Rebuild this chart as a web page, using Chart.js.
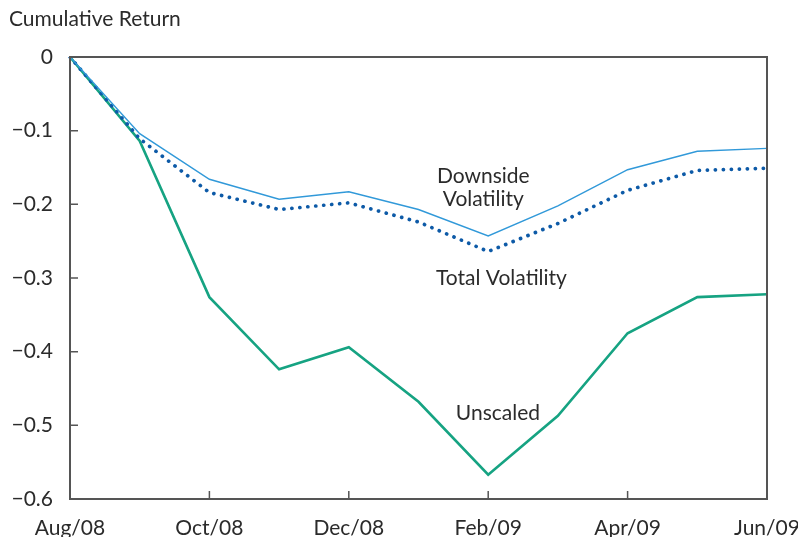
<!DOCTYPE html>
<html>
<head>
<meta charset="utf-8">
<script src="https://cdn.jsdelivr.net/npm/chart.js@4.4.0/dist/chart.umd.min.js"></script>
<style>
  html, body { margin: 0; padding: 0; background: #fff; }
  #wrap { width: 798px; height: 537px; position: relative; }
</style>
</head>
<body>
<div id="wrap"><canvas id="mycanvas" width="798" height="537"></canvas></div>
<script>
var months = ['Aug/08', 'Sep/08', 'Oct/08', 'Nov/08', 'Dec/08', 'Jan/09', 'Feb/09', 'Mar/09', 'Apr/09', 'May/09', 'Jun/09'];
var downside = [0, -0.104, -0.166, -0.193, -0.183, -0.207, -0.243, -0.202, -0.153, -0.128, -0.124];
var totalVol = [0, -0.111, -0.184, -0.207, -0.198, -0.224, -0.264, -0.226, -0.181, -0.154, -0.151];
var unscaled = [0, -0.114, -0.326, -0.424, -0.394, -0.468, -0.567, -0.487, -0.375, -0.326, -0.322];

var yTitle = 'Cumulative Return';
// series labels, placed in data coordinates (month index, value)
var notes = [
	{ text: 'Downside', x: 5.93, y: -0.162 },
	{ text: 'Volatility', x: 5.93, y: -0.193 },
	{ text: 'Total Volatility', x: 6.19, y: -0.300 },
	{ text: 'Unscaled', x: 6.14, y: -0.483 }
];

var FONT = 'Lato, "Noto Sans", sans-serif';
var INK = '#2b2b2b';

var frame = {
	id: 'frame',
	afterDatasetsDraw: function(chart) {
		var ctx = chart.ctx, a = chart.chartArea;
		var xs = chart.scales.x, ys = chart.scales.y;
		ctx.save();
		ctx.strokeStyle = '#555';
		ctx.lineWidth = 2;
		ctx.strokeRect(a.left, a.top, a.right - a.left, a.bottom - a.top);
		ctx.lineWidth = 1.5;
		ctx.beginPath();
		ys.ticks.forEach(function(t) {
			var py = ys.getPixelForValue(t.value);
			ctx.moveTo(a.left, py);
			ctx.lineTo(a.left + 8, py);
		});
		for (var i = 0; i < months.length; i += 2) {
			var px = xs.getPixelForValue(i);
			ctx.moveTo(px, a.bottom);
			ctx.lineTo(px, a.bottom - 8);
		}
		ctx.stroke();

		ctx.fillStyle = INK;
		ctx.font = '21px ' + FONT;
		ctx.textAlign = 'center';
		ctx.textBaseline = 'middle';
		notes.forEach(function(n) {
			ctx.fillText(n.text, xs.getPixelForValue(n.x), ys.getPixelForValue(n.y));
		});

		ctx.textAlign = 'left';
		ctx.font = '21px ' + FONT;
		ctx.fillText(yTitle, 9, 19);
		ctx.restore();
	}
};

var chartdata = {
	labels: months,
	datasets: [
		{
			label: 'Downside Volatility',
			data: downside,
			borderColor: '#3199d9',
			borderWidth: 1.4,
			pointRadius: 0,
			tension: 0
		},
		{
			label: 'Total Volatility',
			data: totalVol,
			borderColor: '#0d5aa7',
			borderWidth: 3.7,
			borderDash: [0.1, 7.9],
			borderCapStyle: 'round',
			pointRadius: 0,
			tension: 0
		},
		{
			label: 'Unscaled',
			data: unscaled,
			borderColor: '#16a382',
			borderWidth: 2.6,
			pointRadius: 0,
			tension: 0
		}
	]
};

var ctx = document.getElementById('mycanvas');

var lineGraph = new Chart(ctx, {
	type: 'line',
	data: chartdata,
	plugins: [frame],
	options: {
		responsive: false,
		animation: false,
		events: [],
		layout: { padding: { left: 0, right: 31, top: 57, bottom: 0 } },
		plugins: {
			legend: { display: false },
			tooltip: { enabled: false },
			title: { display: false }
		},
		scales: {
			x: {
				type: 'category',
				offset: false,
				afterFit: function(s) { s.height = 38; s.paddingLeft = 0; s.paddingRight = 0; },
				grid: { display: false, drawTicks: false },
				border: { display: false },
				ticks: {
					autoSkip: false,
					maxRotation: 0,
					padding: 17,
					color: INK,
					font: { family: FONT, size: 21 },
					callback: function(v, i) { return i % 2 === 0 ? months[i] : ''; }
				}
			},
			y: {
				min: -0.6,
				max: 0,
				afterFit: function(s) { s.width = 70; s.paddingTop = 0; s.paddingBottom = 0; },
				grid: { display: false, drawTicks: false },
				border: { display: false },
				ticks: {
					stepSize: 0.1,
					padding: 17,
					color: INK,
					font: { family: FONT, size: 21 },
					callback: function(v) {
						var r = Math.round(v * 10) / 10;
						return r === 0 ? '0' : '\u2212' + Math.abs(r).toFixed(1);
					}
				}
			}
		}
	}
});
</script>
</body>
</html>
